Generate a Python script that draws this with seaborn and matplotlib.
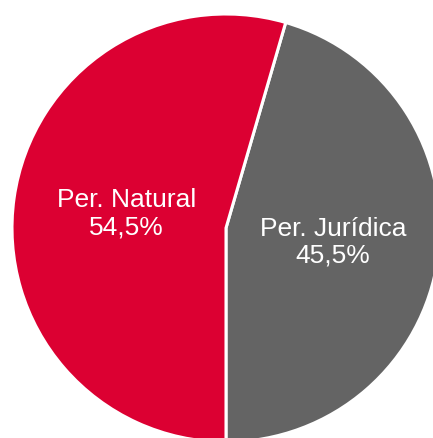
import matplotlib
matplotlib.use("Agg")
import matplotlib.pyplot as plt
import seaborn as sns

sns.set_theme(style="white")
plt.rcParams['font.family'] = ['Liberation Sans', 'DejaVu Sans']

categories = ["Per. Jurídica", "Per. Natural"]
values = [45.5, 54.5]
value_labels = ["45,5%", "54,5%"]
colors = ["#646464", "#DC0032"]

fig = plt.figure(figsize=(4.33, 4.39), dpi=100)
ax = fig.add_axes([0, 0, 1, 1])
wedges, _ = ax.pie(values, colors=colors, startangle=270, counterclock=True,
                   radius=1.0, center=(0, 0),
                   wedgeprops=dict(edgecolor="white", linewidth=2.2))
ax.set_aspect('auto')
ax.set_xlim(-226 / 214, (433 - 226) / 214)
ax.set_ylim(-(439 - 229) / 214, 229 / 214)
ax.axis('off')

label_pos = [(0.50, -0.063), (-0.464, 0.072)]
for (x, y), cat, vl in zip(label_pos, categories, value_labels):
    ax.text(x, y, f"{cat}\n{vl}", ha="center", va="center", color="white",
            fontsize=19, linespacing=1.15)

fig.savefig("out.png", dpi=100)
